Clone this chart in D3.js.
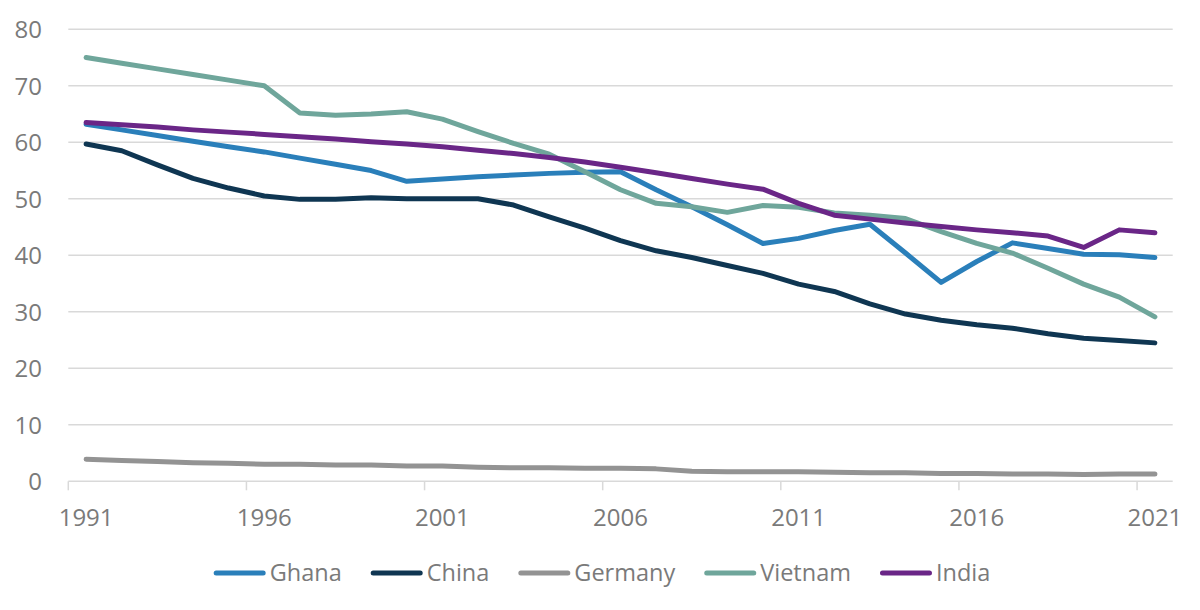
<!DOCTYPE html>
<html>
<head>
<meta charset="utf-8">
<script src="https://cdn.jsdelivr.net/npm/d3@7"></script>
<style>
  html, body { margin: 0; padding: 0; background: #ffffff; }
  svg { display: block; }
  text { font-family: "Open Sans", "Noto Sans", sans-serif; fill: #7a7a7a; }
</style>
</head>
<body>
<svg id="chart" width="1200" height="610"></svg>
<script>
const years = d3.range(1991, 2022);
const seriesNames = ["Ghana", "China", "Germany", "Vietnam", "India"];
const ghana = [63.2, 62.2, 61.2, 60.2, 59.2, 58.3, 57.2, 56.1, 55.0, 53.1, 53.5, 53.9, 54.2, 54.5, 54.7, 54.8, 51.6, 48.6, 45.4, 42.1, 43.0, 44.4, 45.5, 40.4, 35.2, 38.9, 42.2, 41.2, 40.2, 40.1, 39.6];
const china = [59.7, 58.5, 56.0, 53.6, 51.9, 50.5, 49.9, 49.9, 50.2, 50.0, 50.0, 50.0, 48.9, 46.8, 44.8, 42.6, 40.8, 39.6, 38.2, 36.8, 34.9, 33.6, 31.4, 29.6, 28.5, 27.7, 27.1, 26.1, 25.3, 24.9, 24.5];
const germany = [3.9, 3.7, 3.5, 3.3, 3.2, 3.0, 3.0, 2.9, 2.9, 2.7, 2.7, 2.5, 2.4, 2.4, 2.3, 2.3, 2.2, 1.8, 1.7, 1.7, 1.7, 1.6, 1.5, 1.5, 1.4, 1.4, 1.3, 1.3, 1.2, 1.3, 1.3];
const vietnam = [75.0, 74.0, 73.0, 72.0, 71.0, 70.0, 65.2, 64.8, 65.0, 65.4, 64.1, 61.9, 59.8, 57.9, 54.8, 51.6, 49.2, 48.6, 47.6, 48.8, 48.5, 47.5, 47.1, 46.5, 44.2, 42.1, 40.4, 37.7, 34.9, 32.6, 29.1];
const india = [63.5, 63.1, 62.7, 62.2, 61.8, 61.4, 61.0, 60.6, 60.1, 59.7, 59.2, 58.6, 58.0, 57.3, 56.5, 55.6, 54.6, 53.6, 52.6, 51.7, 49.2, 47.1, 46.4, 45.7, 45.1, 44.5, 44.0, 43.4, 41.4, 44.5, 44.0];
const yTicks = [0, 10, 20, 30, 40, 50, 60, 70, 80];
const xTickLabels = [1991, 1996, 2001, 2006, 2011, 2016, 2021];
const colors = ["#2a7fba", "#0f3652", "#939393", "#6fa69b", "#6a2687"];

const seriesValues = [ghana, china, germany, vietnam, india];

const svg = d3.select("#chart");
const plotLeft = 68.3, plotRight = 1172.7, plotTop = 29.3, plotBottom = 481.3;

const x = d3.scaleBand().domain(years).range([plotLeft, plotRight]).paddingInner(0).paddingOuter(0);
const y = d3.scaleLinear().domain([0, 80]).range([plotBottom, plotTop]);

// gridlines
svg.append("g")
  .selectAll("line")
  .data(yTicks)
  .join("line")
  .attr("x1", plotLeft).attr("x2", plotRight)
  .attr("y1", d => y(d)).attr("y2", d => y(d))
  .attr("stroke", "#d9d9d9").attr("stroke-width", 1.5);

// y labels
const yAxis = d3.axisLeft(y).tickValues(yTicks).tickSize(0).tickPadding(0);
const yg = svg.append("g").attr("transform", "translate(42,0)").call(yAxis);
yg.select(".domain").remove();
yg.selectAll("text")
  .attr("font-size", 24)
  .attr("fill", "#7a7a7a")
  .style("font-family", "'Open Sans', sans-serif")
  .attr("dy", "0.35em");

// x axis ticks (between categories every 5 years)
const boundaryIdx = [0, 5, 10, 15, 20, 25, 30];
svg.append("g")
  .selectAll("line")
  .data(boundaryIdx)
  .join("line")
  .attr("x1", d => plotLeft + d * x.bandwidth())
  .attr("x2", d => plotLeft + d * x.bandwidth())
  .attr("y1", plotBottom).attr("y2", plotBottom + 9)
  .attr("stroke", "#d9d9d9").attr("stroke-width", 1.5);

// x labels
svg.append("g")
  .selectAll("text")
  .data(xTickLabels)
  .join("text")
  .attr("x", d => x(d) + x.bandwidth() / 2)
  .attr("y", 518)
  .attr("dy", "0.35em")
  .attr("text-anchor", "middle")
  .attr("font-size", 24)
  .text(d => d);

// lines
const line = d3.line()
  .x((d, i) => x(years[i]) + x.bandwidth() / 2)
  .y(d => y(d));

svg.append("g")
  .selectAll("path")
  .data(seriesValues)
  .join("path")
  .attr("d", d => line(d))
  .attr("fill", "none")
  .attr("stroke", (d, i) => colors[i])
  .attr("stroke-width", 5)
  .attr("stroke-linejoin", "round")
  .attr("stroke-linecap", "round");

// legend
const legend = svg.append("g");
let cx = 0;
const legendY = 573;
seriesNames.forEach((name, i) => {
  const g = legend.append("g").attr("transform", `translate(${cx},0)`);
  g.append("line")
    .attr("x1", 2.5).attr("x2", 49.5)
    .attr("y1", legendY).attr("y2", legendY)
    .attr("stroke", colors[i]).attr("stroke-width", 5)
    .attr("stroke-linecap", "round");
  const t = g.append("text")
    .attr("x", 56)
    .attr("y", legendY)
    .attr("dy", "0.35em")
    .attr("font-size", 23.5)
    .text(name);
  const w = t.node().getComputedTextLength();
  cx += 56 + w + 29;
});
const totalW = cx - 29;
legend.attr("transform", `translate(${602 - totalW / 2},0)`);
</script>
</body>
</html>
